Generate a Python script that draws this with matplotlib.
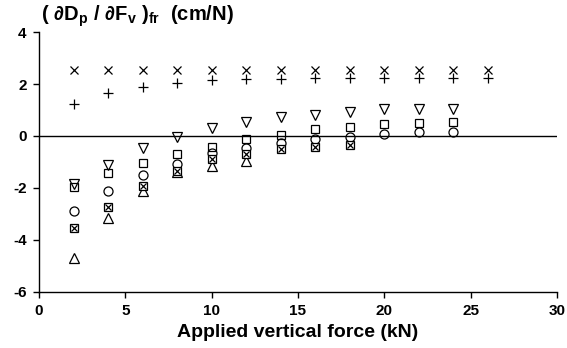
import matplotlib
matplotlib.use("Agg")
import matplotlib.pyplot as plt

plt.rcParams['font.family'] = ['Liberation Sans', 'DejaVu Sans']
plt.rcParams['mathtext.fontset'] = 'custom'
plt.rcParams['mathtext.rm'] = 'Liberation Sans:bold'
plt.rcParams['mathtext.it'] = 'Liberation Sans:bold'
plt.rcParams['mathtext.bf'] = 'Liberation Sans:bold'

# Applied vertical force (kN)
force = [2, 4, 6, 8, 10, 12, 14, 16, 18, 20, 22, 24, 26]

# (dDp/dFv)_fr in cm/N for each test series
cross_vals = [2.55, 2.55, 2.55, 2.55, 2.55, 2.55, 2.55, 2.55, 2.55, 2.55, 2.55, 2.55, 2.55]
plus_vals = [1.25, 1.65, 1.88, 2.04, 2.15, 2.2, 2.2, 2.25, 2.25, 2.25, 2.25, 2.25, 2.25]
tri_down_vals = [-1.85, -1.1, -0.45, -0.03, 0.3, 0.52, 0.72, 0.82, 0.92, 1.02, 1.05, 1.05]
square_vals = [-1.95, -1.43, -1.05, -0.68, -0.42, -0.11, 0.04, 0.27, 0.35, 0.45, 0.5, 0.55]
circle_vals = [-2.87, -2.11, -1.5, -1.06, -0.64, -0.45, -0.26, -0.11, -0.04, 0.08, 0.15, 0.15]
boxx_vals = [-3.55, -2.72, -1.92, -1.36, -0.87, -0.68, -0.49, -0.42, -0.34]
tri_up_vals = [-4.68, -3.17, -2.1, -1.4, -1.17, -0.98]

fig = plt.figure(figsize=(5.67, 3.48), dpi=100)
ax = fig.add_axes([0.069, 0.161, 0.913, 0.747])

ax.axhline(0, color='black', lw=1.0, zorder=1)

mk = dict(linestyle='none', color='black', markerfacecolor='none', markeredgewidth=0.9, zorder=3)
ax.plot(force[:len(cross_vals)], cross_vals, marker='x', markersize=5.5, **mk)
ax.plot(force[:len(plus_vals)], plus_vals, marker='+', markersize=7.5, **mk)
ax.plot(force[:len(tri_down_vals)], tri_down_vals, marker='v', markersize=6.5, **mk)
ax.plot(force[:len(square_vals)], square_vals, marker='s', markersize=5.5, **mk)
ax.plot(force[:len(circle_vals)], circle_vals, marker='o', markersize=6.5, **mk)
ax.plot(force[:len(boxx_vals)], boxx_vals, marker='s', markersize=5.5,
        linestyle='none', color='black', markerfacecolor='white', markeredgewidth=0.9, zorder=4)
ax.plot(force[:len(boxx_vals)], boxx_vals, marker='x', markersize=4.0,
        linestyle='none', color='black', markeredgewidth=0.9, zorder=5)
ax.plot(force[:len(tri_up_vals)], tri_up_vals, marker='^', markersize=6.5, **mk)

ax.set_xlim(0, 30)
ax.set_ylim(-6, 4)
ax.set_xticks([0, 5, 10, 15, 20, 25, 30])
ax.set_yticks([-6, -4, -2, 0, 2, 4])
ax.set_yticklabels(['-6', '-4', '-2', '0', '2', '4'])

for s in ['top', 'right']:
    ax.spines[s].set_visible(False)
for s in ['left', 'bottom']:
    ax.spines[s].set_linewidth(1.0)

ax.tick_params(direction='out', length=4, width=1.0, labelsize=11, pad=5)
for lab in ax.get_xticklabels() + ax.get_yticklabels():
    lab.set_fontweight('bold')

ax.set_xlabel('Applied vertical force (kN)', fontsize=14, fontweight='bold', labelpad=4)
fig.text(0.072, 0.952, r'$(\ \partial D_p\ /\ \partial F_v\ )_{fr}$  (cm/N)',
         fontsize=14.5, fontweight='bold', ha='left', va='center')

fig.savefig('out.png', dpi=100)
